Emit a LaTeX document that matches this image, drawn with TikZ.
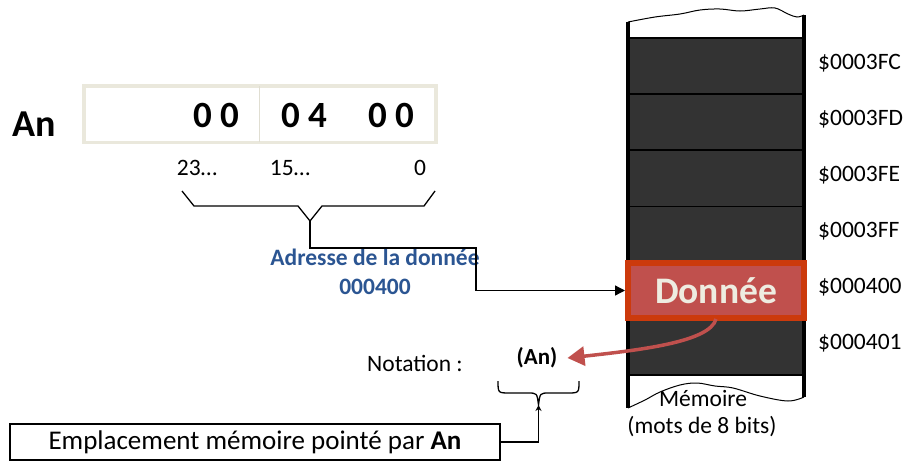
\documentclass[tikz,border=0pt]{standalone}
\usepackage{fontspec}
\setmainfont{Carlito}
\usetikzlibrary{arrows.meta}
\definecolor{cellfill}{HTML}{333333}
\definecolor{regborder}{HTML}{EAE8DC}
\definecolor{divline}{HTML}{E0DED2}
\definecolor{donfill}{HTML}{C0504D}
\definecolor{donedge}{HTML}{CC3A0C}
\definecolor{dontext}{HTML}{EEECE1}
\definecolor{addrblue}{HTML}{2B5592}
\begin{document}
\begin{tikzpicture}[x=1pt,y=-1pt,
  txt/.style={inner sep=0pt, font=\fontsize{23.5}{27}\selectfont},
  bigdigits/.style={inner sep=0pt, font=\fontsize{37}{40}\selectfont\bfseries},
  cell/.style={draw=black, line width=1.6pt, fill=cellfill, minimum width=176pt, minimum height=56.2pt, inner sep=0pt, anchor=north west},
  wall/.style={line width=3.2pt, black},
  wire/.style={line width=1.3pt, black},
]
\useasboundingbox (0,0) rectangle (909,461);

% register An
\node[inner sep=0pt, font=\fontsize{38}{40}\selectfont\bfseries] (an) at (34,124) {An};
\node[draw=regborder, line width=3.5pt, fill=white, minimum width=352pt, minimum height=56.5pt, inner sep=0pt] (reg) at (260,114) {};
\draw[divline, line width=1pt] (259,86) -- (259,142);
\node[bigdigits] (d1) at (216,115) {0 0};
\node[bigdigits] (d2) at (304,115) {0 4};
\node[bigdigits] (d3) at (391,115) {0 0};

% bit numbers
\node[txt] (b23) at (197,168) {23…};
\node[txt] (b15) at (290,168) {15…};
\node[txt] (b0) at (420,168) {0};

% straight brace under the register
\coordinate (bt) at (310,221);
\draw[wire] (182,191) -- (194,206) -- (298,206) -- (bt) -- (322,206) -- (424,206) -- (435,191);

% memory column
\node[cell] (c1) at (628,37) {};
\node[cell] (c2) at (628,93.2) {};
\node[cell] (c3) at (628,149.4) {};
\node[cell] (c4) at (628,205.6) {};
\node[cell] (c5) at (628,261.8) {};
\node[cell] (c6) at (628,318) {};
\draw[wall] (628,22) -- (628,408);
\draw[wall] (804,15) -- (804,397);
\draw[line width=1pt] plot[smooth, tension=0.6] coordinates {(628,22) (655,17) (680,14) (700,10) (720,9) (740,11) (760,9) (775,8) (788,14) (797,17) (804,15)};
\draw[line width=1pt] plot[smooth, tension=0.6] coordinates {(628,408) (645,400) (660,392) (680,385) (697,383) (715,386) (733,388) (760,396) (788,401) (804,397)};

\node[draw=donedge, line width=6pt, fill=donfill, minimum width=176pt, minimum height=55pt, inner sep=0pt,
      text=dontext, font=\fontsize{37.5}{40}\selectfont\bfseries] (don) at (716,290.5) {Donnée};

% addresses
\node[txt, anchor=west] (a1) at (818,63) {\$0003FC};
\node[txt, anchor=west] (a2) at (818,119) {\$0003FD};
\node[txt, anchor=west] (a3) at (818,175) {\$0003FE};
\node[txt, anchor=west] (a4) at (818,231) {\$0003FF};
\node[txt, anchor=west] (a5) at (818,287) {\$000400};
\node[txt, anchor=west] (a6) at (818,343) {\$000401};

\node[txt] (mem) at (703,398) {Mémoire};
\node[txt] (mots) at (702,427) {(mots de 8 bits)};

% address label
\node[inner sep=0pt, text=addrblue, font=\fontsize{23.5}{29}\selectfont\bfseries, align=center] (adr) at (375,272) {Adresse de la donnée\\000400};

% pointer to the memory word
\draw[wire, -{Triangle[length=10pt,width=10pt]}] (bt) |- (476,248) |- (don.west);

% notation
\node[txt] (nota) at (415,363) {Notation :};
\node[inner sep=0pt, font=\fontsize{23}{26}\selectfont\bfseries] (anp) at (537,358) {(An)};
\draw[donfill, line width=3.5pt, -{Triangle[length=17pt,width=19pt]}]
  (716,319) .. controls (710,342) and (640,350) .. ([xshift=10pt]anp.east);

% curly brace under (An)
\coordinate (nb) at (538.5,405);
\draw[line width=1.3pt] (498,381) .. controls (498,393) .. (510,393) -- (528,393)
  .. controls (537,393) .. (nb) .. controls (540,393) .. (549,393) -- (567,393)
  .. controls (579,393) .. (579,381);

\node[draw=black, line width=1.2pt, minimum width=490pt, minimum height=36pt, inner sep=0pt,
      font=\fontsize{27}{30}\selectfont] (emp) at (255,442) {Emplacement mémoire pointé par \textbf{An}};
\draw[wire, -{Stealth[length=6pt,width=6pt]}] (emp.east) -| (nb);
\end{tikzpicture}
\end{document}
